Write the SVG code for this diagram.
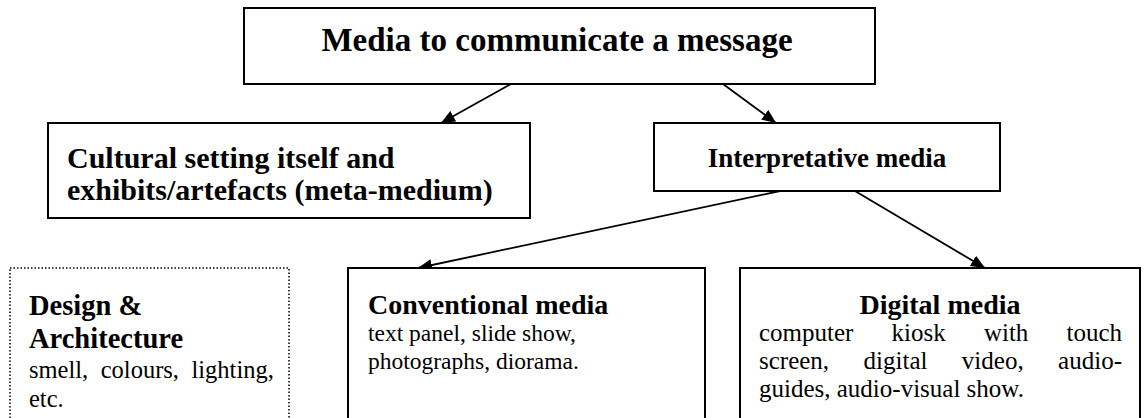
<svg xmlns="http://www.w3.org/2000/svg" width="1147" height="418" viewBox="0 0 1147 418">
<defs>
<style>
.box{fill:#fff;stroke:#000;stroke-width:2}
.dot{fill:#fff;stroke:#000;stroke-width:1.5;stroke-dasharray:1.5 2}
.t{font-family:"Liberation Serif","Times New Roman",serif;fill:#000}
.b{font-weight:bold}
.edge{stroke:#000;stroke-width:1.8;fill:none;marker-end:url(#ah)}
</style>
<marker id="ah" viewBox="0 0 14 12" refX="14" refY="6" markerWidth="14" markerHeight="12" markerUnits="userSpaceOnUse" orient="auto"><path d="M0,0 L14,6 L0,12 z" fill="#000"/></marker>
</defs>
<rect width="1147" height="418" fill="#fff"/>
<g id="connectors">
<line class="edge" x1="511" y1="84" x2="441" y2="123"/>
<line class="edge" x1="723" y1="84" x2="776" y2="123"/>
<line class="edge" x1="780" y1="191" x2="418" y2="268"/>
<line class="edge" x1="855" y1="191" x2="985" y2="268"/>
</g>
<g id="n-media">
<rect class="box" x="244" y="8" width="631" height="76"/>
<text class="t b" x="557" y="51" font-size="33" text-anchor="middle">Media to communicate a message</text>
</g>
<g id="n-cultural">
<rect class="box" x="48" y="123" width="482" height="95"/>
<text class="t b" x="67" y="168" font-size="30">Cultural setting itself and</text>
<text class="t b" x="67" y="200" font-size="30">exhibits/artefacts (meta-medium)</text>
</g>
<g id="n-interp">
<rect class="box" x="654" y="123" width="346" height="68"/>
<text class="t b" x="827" y="167" font-size="27" text-anchor="middle">Interpretative media</text>
</g>
<g id="n-design">
<rect class="dot" x="10" y="268" width="279" height="160"/>
<text class="t b" x="29" y="315" font-size="28.5">Design &amp;</text>
<text class="t b" x="29" y="348" font-size="28.5">Architecture</text>
<text class="t" x="29" y="378" font-size="24.5" word-spacing="6.4">smell, colours, lighting,</text>
<text class="t" x="29" y="407" font-size="24.5">etc.</text>
</g>
<g id="n-conv">
<rect class="box" x="348" y="268" width="357" height="160"/>
<text class="t b" x="368" y="314" font-size="28">Conventional media</text>
<text class="t" x="368" y="341" font-size="23.5">text panel, slide show,</text>
<text class="t" x="368" y="369" font-size="23.5">photographs, diorama.</text>
</g>
<g id="n-digital">
<rect class="box" x="740" y="268" width="400" height="160"/>
<text class="t b" x="940" y="314" font-size="28" text-anchor="middle">Digital media</text>
<text class="t" x="759" y="341" font-size="25" word-spacing="31.9">computer kiosk with touch</text>
<text class="t" x="759" y="369" font-size="25" word-spacing="28.2">screen, digital video, audio-</text>
<text class="t" x="759" y="397" font-size="25">guides, audio-visual show.</text>
</g>
</svg>
